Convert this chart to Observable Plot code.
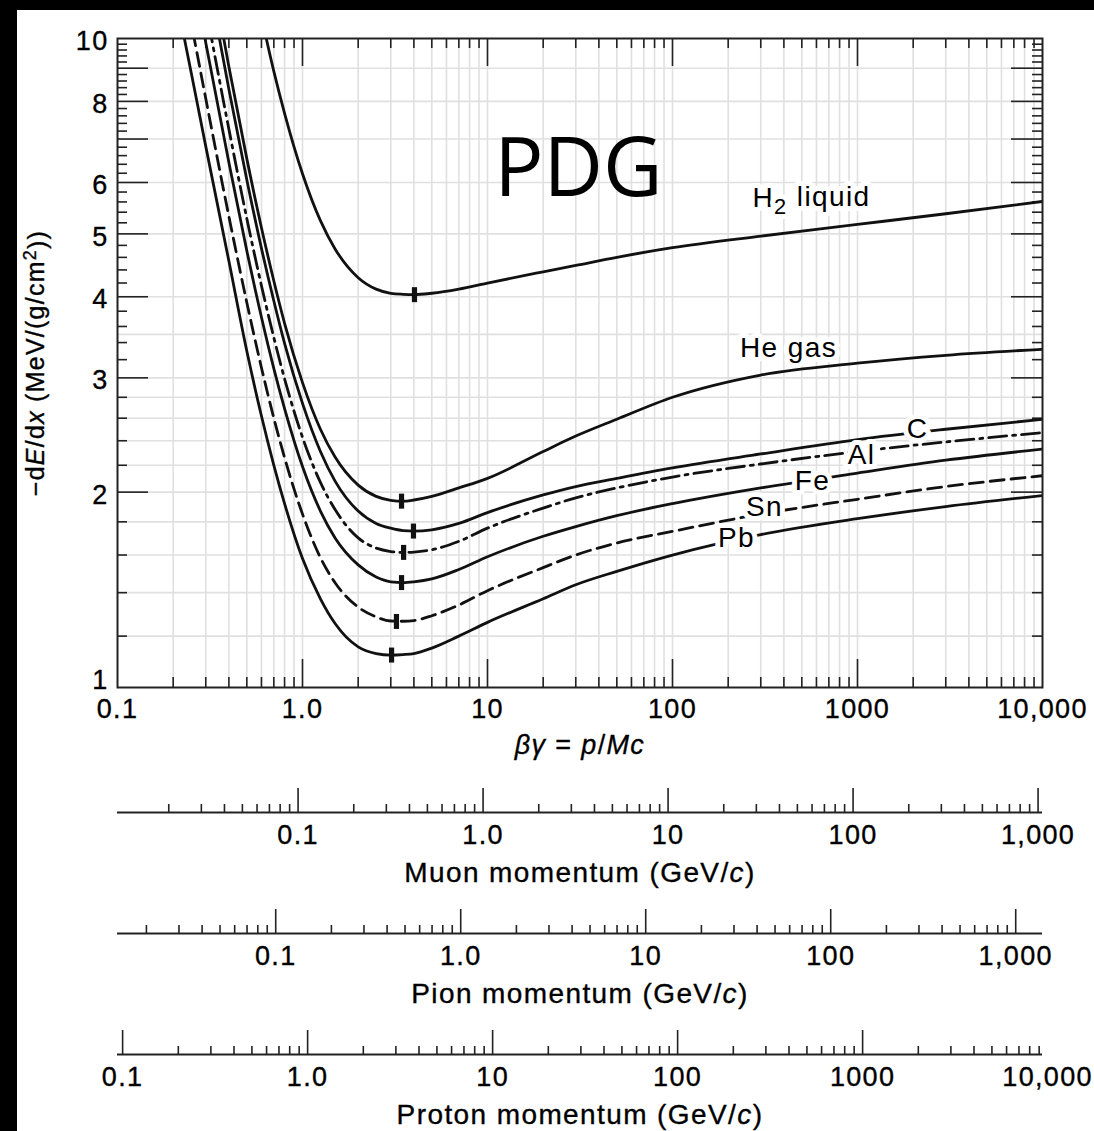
<!DOCTYPE html>
<html><head><meta charset="utf-8">
<script src="https://cdn.jsdelivr.net/npm/d3@7"></script>
<script src="https://cdn.jsdelivr.net/npm/@observablehq/plot@0.6"></script>
<style>
html,body{margin:0;padding:0;background:#000;}
#page{position:absolute;left:17px;top:10px;width:1077px;height:1121px;background:#fff;overflow:hidden;}
#page svg{display:block;}
#page svg text{letter-spacing:0.05em;}
</style></head><body><div id="page"></div>
<script>
// ---------- data ----------
const betaGamma = [0.2,0.25,0.3,0.4,0.5,0.6,0.7,0.8,1,1.25,1.5,2,2.5,3,3.5,4,5,7,10,20,30,50,100,300,1000,3000,10000];
const h2Liquid = [null,null,null,19.4,13.8,10.8,8.9,7.67,6.19,5.24,4.74,4.28,4.11,4.05,4.035,4.03,4.05,4.11,4.20,4.37,4.47,4.60,4.76,4.96,5.17,5.37,5.61];
const heGas    = [27.3,19.0,14.15,9.05,6.53,5.11,4.23,3.64,2.95,2.50,2.265,2.05,1.97,1.943,1.937,1.945,1.97,2.03,2.10,2.31,2.44,2.59,2.80,3.03,3.16,3.25,3.32];
const carbon   = [24.8,17.3,12.99,8.35,6.06,4.75,3.94,3.39,2.74,2.31,2.08,1.87,1.79,1.76,1.745,1.742,1.75,1.79,1.86,1.98,2.04,2.10,2.18,2.29,2.41,2.50,2.59];
const aluminum = [21.0,14.8,11.17,7.25,5.28,4.16,3.46,2.99,2.43,2.07,1.88,1.70,1.64,1.62,1.615,1.617,1.63,1.68,1.76,1.89,1.96,2.03,2.11,2.21,2.31,2.39,2.47];
const iron     = [18.3,13.0,9.85,6.44,4.71,3.72,3.10,2.69,2.19,1.87,1.70,1.545,1.48,1.455,1.451,1.455,1.47,1.52,1.59,1.71,1.77,1.84,1.92,2.03,2.14,2.24,2.33];
const tin      = [14.76,10.59,8.08,5.32,3.92,3.11,2.60,2.26,1.85,1.585,1.45,1.33,1.285,1.266,1.265,1.268,1.29,1.34,1.41,1.53,1.60,1.67,1.74,1.85,1.95,2.04,2.12];
const lead     = [12.2,8.87,6.82,4.54,3.30,2.62,2.20,1.92,1.58,1.37,1.255,1.155,1.128,1.122,1.124,1.128,1.15,1.20,1.26,1.37,1.44,1.51,1.60,1.72,1.82,1.90,1.976];

const seriesNames = ["H2 liquid","He gas","C","Al","Fe","Sn","Pb"];
const seriesDash  = [null,null,null,"18,6,3,6",null,"14,7",null];

const minBetaGamma = [4.03,3.43,3.98,3.52,3.43,3.22,3.03];
const minDedx      = [4.03,1.937,1.742,1.615,1.451,1.264,1.122];

const labelBetaGamma = [564,424,2110,1051,571,314,222];
const labelDedx      = [5.67,3.33,2.50,2.28,2.08,1.894,1.697];

const xTickValues = [0.1,1,10,100,1000,10000];
const xTickText   = ["0.1","1.0","10","100","1000","10,000"];
const yTickValues = [2,3,4,5,6,8,10];
const yBottomTick = [1];
const yGridValues = [1.2,1.4,1.6,1.8,2,2.2,2.4,2.6,2.8,3,3.5,4,5,6,7,8,9];

const muonMass = 0.10566, pionMass = 0.13957, protonMass = 0.93827;
const muonTicks = [0.1,1,10,100,1000], muonTickText = ["0.1","1.0","10","100","1,000"];
const pionTicks = [0.1,1,10,100,1000], pionTickText = ["0.1","1.0","10","100","1,000"];
const protonTicks = [0.1,1,10,100,1000,10000], protonTickText = ["0.1","1.0","10","100","1000","10,000"];

// ---------- helpers ----------
const allSeries = [h2Liquid,heGas,carbon,aluminum,iron,tin,lead];
function minorTicks(lo, hi){const o=[];for(let e=-3;e<=4;e++)for(let k=2;k<=9;k++){const v=+(k*Math.pow(10,e)).toPrecision(6);if(v>lo&&v<hi)o.push(v);}return o;}
function decadeTicks(lo, hi){const o=[];for(let e=-3;e<=4;e++){const v=+Math.pow(10,e).toPrecision(6);if(v>lo*1.0001&&v<hi/1.0001)o.push(v);}return o;}
const yMajorTicks = [2,3,4,5,6,7,8,9];
const yMinorTicks = d3.range(12,100,2).filter(k=>k%10!==0).map(k=>k/10);

const FONT = "'Liberation Sans', Arial, Helvetica, sans-serif";
const INK = "#000";
const BOLD = {stroke: INK, strokeWidth: 0.35};
const W = 1077, mL = 100, mR = 52, mT = 28, mB = 80, H = 757;
const fw = W - mL - mR, fh = H - mT - mB;

const barSymbol = {draw(ctx){ ctx.rect(-2.6,-7.5,5.2,15); }};

const page = document.getElementById("page");

// ---------- main chart ----------
const xMinor = minorTicks(0.1,10000), xMajor = decadeTicks(0.1,10000);
const curveMarks = allSeries.map((vals,s) => Plot.line(
  betaGamma.map((b,i)=>({bg:b, v:vals[i]})).filter(d=>d.v!=null),
  {x:"bg", y:"v", stroke:"#111", strokeWidth:2.8, strokeDasharray: seriesDash[s] || undefined,
   curve:"monotone-x", clip:true}));
const minima = seriesNames.map((n,i)=>({name:n, bg:minBetaGamma[i], v:minDedx[i]}));
const labels = seriesNames.map((n,i)=>({name:n, bg:labelBetaGamma[i], v:labelDedx[i]}));

const main = Plot.plot({
  width: W, height: H, marginLeft: mL, marginRight: mR, marginTop: mT, marginBottom: mB,
  x: {type:"log", domain:[0.1,10000], axis:null},
  y: {type:"log", domain:[1,10], axis:null},
  style: {fontFamily: FONT, background:"white", color: INK, overflow:"visible"},
  marks: [
    Plot.ruleX([...xMinor,...xMajor], {stroke:"#e0e0e0", strokeWidth:1.6}),
    Plot.ruleY(yGridValues, {stroke:"#e0e0e0", strokeWidth:1.6}),
    Plot.ruleX(xMajor, {stroke:"#222", strokeWidth:1.6, insetBottom: fh-28}),
    Plot.ruleX(xMinor, {stroke:"#222", strokeWidth:1.6, insetBottom: fh-10}),
    Plot.ruleX(xMajor, {stroke:"#222", strokeWidth:1.6, insetTop: fh-28}),
    Plot.ruleX(xMinor, {stroke:"#222", strokeWidth:1.6, insetTop: fh-10}),
    Plot.ruleY(yMajorTicks, {stroke:"#222", strokeWidth:1.6, insetRight: fw-31}),
    Plot.ruleY(yMinorTicks, {stroke:"#222", strokeWidth:1.6, insetRight: fw-10}),
    Plot.ruleY(yMajorTicks, {stroke:"#222", strokeWidth:1.6, insetLeft: fw-31}),
    Plot.ruleY(yMinorTicks, {stroke:"#222", strokeWidth:1.6, insetLeft: fw-10}),
    ...curveMarks,
    Plot.dot(minima, {x:"bg", y:"v", symbol: barSymbol, fill: "#111", stroke: null}),
    Plot.text(labels, {x:"bg", y:"v", text:"name", fontSize:28, fill:INK, stroke:"white", strokeWidth:10, paintOrder:"stroke", strokeLinejoin:"round"}),
    Plot.text(["PDG"], {x:()=>31, y:()=>5.71, lineAnchor:"bottom", fontSize:82, fontFamily:"'Open Sans', 'Noto Sans', sans-serif", fill:"#000"}),
    Plot.frame({stroke:"#222", strokeWidth:2}),
    Plot.text(xTickValues.map((v,i)=>({v, t:xTickText[i]})), {x:"v", text:"t", frameAnchor:"bottom", lineAnchor:"middle", dy:22, fontSize:27, fill:INK, ...BOLD}),
    Plot.text(yTickValues, {y:d=>d, text:d=>String(d), frameAnchor:"left", dx:-9, dy:3, textAnchor:"end", lineAnchor:"middle", fontSize:27, fill:INK, ...BOLD}),
    Plot.text(yBottomTick, {y:d=>d, text:d=>String(d), frameAnchor:"left", dx:-9, dy:-7, textAnchor:"end", lineAnchor:"middle", fontSize:27, fill:INK, ...BOLD}),
    Plot.text(["βγ = p/Mc"], {frameAnchor:"bottom", lineAnchor:"middle", dy:58, fontSize:27, fill:INK, ...BOLD}),
    Plot.text(["−dE/dx (MeV/(g/cm2))"], {frameAnchor:"left", textAnchor:"middle", lineAnchor:"middle", dx:-82, rotate:-90, fontSize:25, fill:INK, ...BOLD})
  ]
});

function rich(svg, map){
  svg.querySelectorAll("text").forEach(t=>{
    const k = t.textContent;
    if (k === "PDG") t.style.letterSpacing = "0";
    if (map[k] !== undefined) t.innerHTML = map[k];
  });
}
rich(main, {
  "H2 liquid": "H<tspan dy='0.3em' font-size='0.78em'>2</tspan><tspan dy='-0.3em'> liquid</tspan>",
  "βγ = p/Mc": "<tspan font-style='italic'>βγ</tspan> = <tspan font-style='italic'>p</tspan>/<tspan font-style='italic'>Mc</tspan>",
  "−dE/dx (MeV/(g/cm2))": "−d<tspan font-style='italic'>E</tspan>/d<tspan font-style='italic'>x</tspan> (MeV/(g/cm<tspan dy='-0.4em' font-size='0.72em'>2</tspan><tspan dy='0.4em'>))</tspan>"
});
page.appendChild(main);

// ---------- momentum axes ----------
function momentumAxis(mass, ticks, tickText, title){
  const lo = 0.1*mass, hi = 10000*mass;
  const svg = Plot.plot({
    width: W, height: 121, marginLeft: mL, marginRight: mR, marginTop: 21, marginBottom: 76,
    x: {type:"log", domain:[lo,hi], axis:null},
    y: {domain:[0,1], axis:null},
    style: {fontFamily: FONT, background:"white", color: INK, overflow:"visible"},
    marks: [
      Plot.ruleX(ticks.filter(t=>t>=lo&&t<=hi), {stroke:"#222", strokeWidth:1.6}),
      Plot.ruleX(minorTicks(lo,hi), {stroke:"#222", strokeWidth:1.6, insetTop:16}),
      Plot.ruleY([0], {stroke:"#222", strokeWidth:2}),
      Plot.text(ticks.map((v,i)=>({v, t:tickText[i]})), {x:"v", text:"t", frameAnchor:"bottom", lineAnchor:"middle", dy:23, fontSize:27, fill:INK, ...BOLD}),
      Plot.text([title], {frameAnchor:"bottom", lineAnchor:"middle", dy:61, fontSize:28, fill:INK, ...BOLD})
    ]
  });
  rich(svg, {[title]: title.replace("/c)", "/<tspan font-style='italic'>c</tspan>)")});
  return svg;
}
page.appendChild(momentumAxis(muonMass, muonTicks, muonTickText, "Muon momentum (GeV/c)"));
page.appendChild(momentumAxis(pionMass, pionTicks, pionTickText, "Pion momentum (GeV/c)"));
page.appendChild(momentumAxis(protonMass, protonTicks, protonTickText, "Proton momentum (GeV/c)"));
</script></body></html>
